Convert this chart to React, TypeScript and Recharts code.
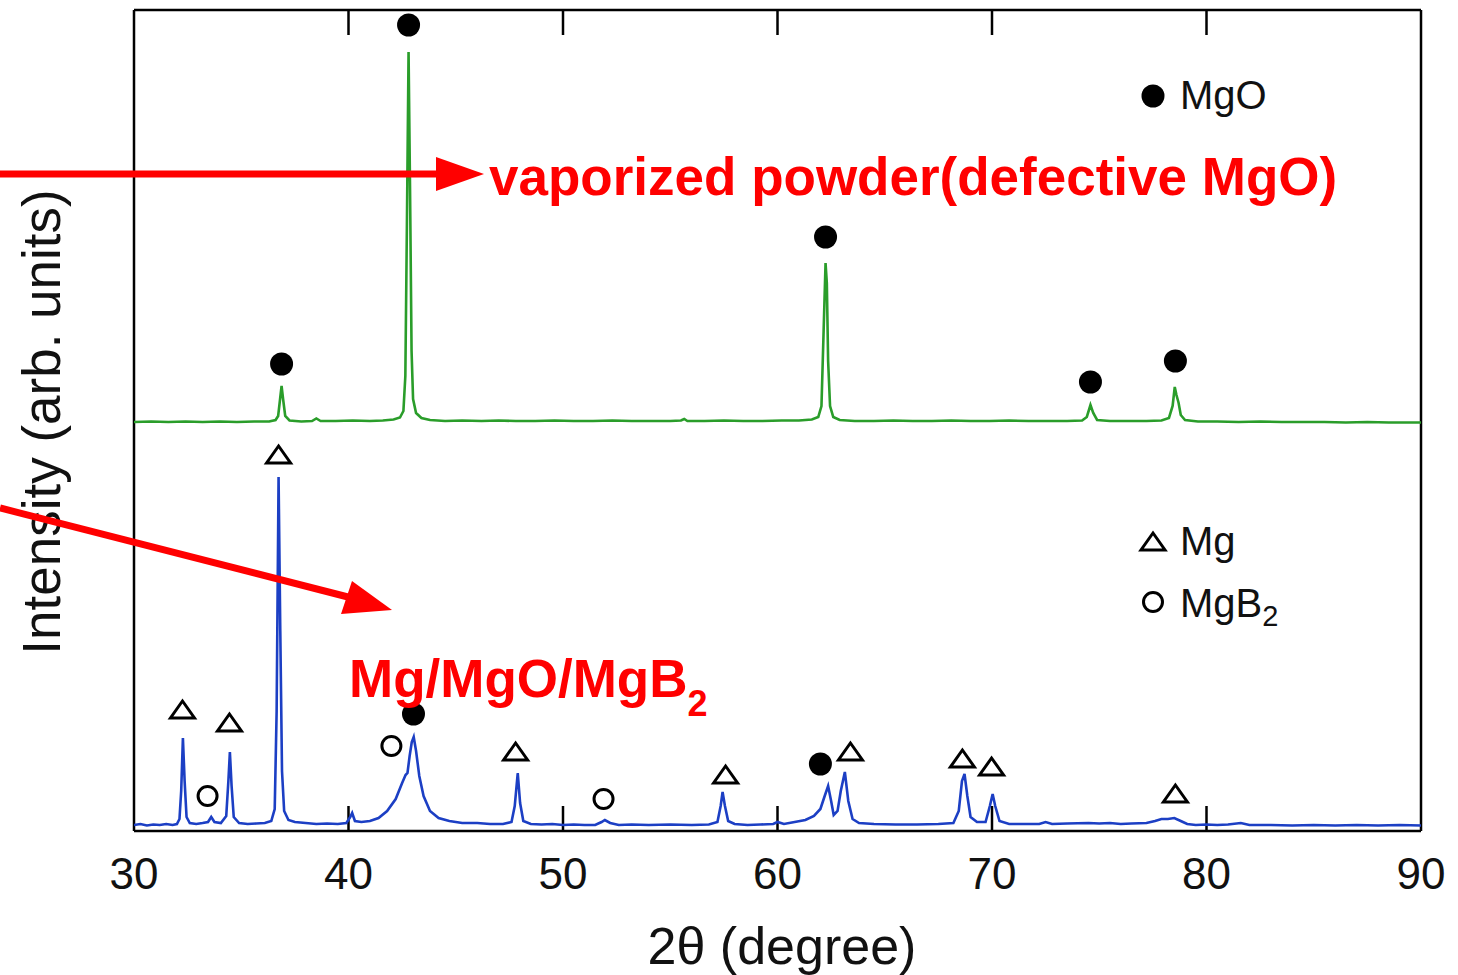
import React from "react";
import {
  ComposedChart,
  Line,
  Scatter,
  XAxis,
  YAxis,
  ReferenceLine,
} from "recharts";

// ---- axis setup ----
const THETA_TICKS = [30, 40, 50, 60, 70, 80, 90];
const INNER_TICKS = [40, 50, 60, 70, 80];
const Y_MAX = 821;

// ---- XRD pattern of the vaporized powder (2θ, stacked intensity) ----
const VAPORIZED_PATTERN: [number, number][] = [
  [30.0, 409], [30.8, 409.5], [31.6, 409], [32.4, 409.5], [33.2, 409], [34.0, 409.5],
  [34.8, 409], [35.6, 409.5], [36.3, 409.5], [36.6, 411], [36.72, 415], [36.8, 430],
  [36.88, 445], [36.95, 432], [37.05, 415], [37.25, 410.5], [37.8, 409.5], [38.3, 410],
  [38.5, 412.5], [38.7, 410], [39.4, 410], [40.2, 410.5], [41.0, 410], [41.6, 410.5],
  [42.1, 411.5], [42.4, 413.5], [42.56, 420], [42.65, 455], [42.72, 600], [42.8, 779],
  [42.87, 640], [42.94, 480], [43.01, 432], [43.15, 418], [43.4, 413], [43.8, 411],
  [44.5, 410], [45.3, 410.5], [46.2, 410], [47.0, 410.5], [47.8, 410], [48.7, 410],
  [49.6, 410.5], [50.5, 410], [51.4, 410], [52.3, 410.5], [53.2, 410], [54.1, 410],
  [55.0, 410], [55.5, 410.5], [55.65, 412], [55.8, 410], [56.6, 410], [57.5, 410.5],
  [58.4, 410], [59.3, 410], [60.2, 410.5], [61.0, 410.5], [61.6, 411.5], [61.9, 414],
  [62.05, 425], [62.15, 500], [62.24, 568], [62.3, 548], [62.36, 470], [62.45, 425],
  [62.6, 414], [62.9, 411], [63.6, 410], [64.5, 410], [65.4, 410.5], [66.3, 410],
  [67.2, 410], [68.1, 410.5], [69.0, 410], [69.9, 410], [70.8, 410.5], [71.7, 410],
  [72.6, 410], [73.5, 410], [74.2, 410.5], [74.42, 414], [74.59, 426], [74.72, 418],
  [74.9, 411], [75.5, 410], [76.3, 410], [77.2, 410], [77.9, 410.5], [78.25, 413],
  [78.42, 425], [78.52, 444], [78.6, 436], [78.7, 428], [78.8, 416], [79.0, 411],
  [79.6, 409.5], [80.5, 409.5], [81.5, 409], [82.5, 409.5], [83.5, 409], [84.5, 409],
  [85.5, 409], [86.5, 408.5], [87.5, 409], [88.5, 408.5], [89.3, 408.5], [90.0, 408.5],
];

// ---- XRD pattern of the Mg/MgO/MgB2 sample (2θ, intensity) ----
const COMPOSITE_PATTERN: [number, number][] = [
  [30.0, 6], [30.3, 7], [30.6, 5.5], [30.9, 6.5], [31.2, 6], [31.5, 7], [31.8, 6],
  [32.0, 7], [32.12, 12], [32.2, 40], [32.28, 93], [32.36, 50], [32.45, 14], [32.6, 8],
  [32.9, 7], [33.2, 8], [33.45, 9], [33.6, 14], [33.75, 9], [34.05, 8], [34.3, 15],
  [34.4, 50], [34.47, 79], [34.55, 45], [34.65, 14], [34.9, 8], [35.3, 7], [35.7, 7.5],
  [36.1, 8], [36.4, 10], [36.56, 22], [36.65, 120], [36.74, 354], [36.82, 200],
  [36.9, 60], [37.0, 20], [37.2, 11], [37.5, 9], [38.0, 8], [38.5, 7], [39.0, 7.5],
  [39.5, 7], [39.9, 8], [40.08, 14], [40.17, 18], [40.3, 10], [40.6, 9], [41.0, 10],
  [41.4, 13], [41.8, 20], [42.2, 32], [42.5, 48], [42.66, 56], [42.75, 58], [42.85, 75],
  [42.95, 89], [43.04, 94], [43.15, 80], [43.3, 55], [43.5, 35], [43.8, 20], [44.2, 13],
  [44.7, 10], [45.3, 8], [46.0, 8], [46.6, 7], [47.2, 7], [47.6, 9], [47.75, 25],
  [47.89, 58], [48.0, 28], [48.15, 10], [48.5, 7], [49.0, 6.5], [49.5, 7], [50.0, 6],
  [50.5, 6.5], [51.0, 6], [51.5, 6], [51.8, 9], [51.95, 11], [52.2, 8], [52.6, 6],
  [53.2, 6.5], [54.0, 6], [55.0, 6.5], [56.0, 6], [56.8, 6.5], [57.2, 9], [57.35, 25],
  [57.44, 39], [57.55, 25], [57.7, 10], [58.0, 7], [58.6, 6], [59.2, 6.5], [59.8, 7],
  [60.0, 9], [60.3, 7], [60.8, 9], [61.3, 11], [61.7, 15], [62.0, 22], [62.2, 35],
  [62.36, 45], [62.5, 30], [62.62, 16], [62.8, 20], [62.95, 40], [63.14, 59], [63.3, 30],
  [63.5, 12], [63.8, 8], [64.5, 7], [65.5, 6.5], [66.5, 6.5], [67.5, 7], [68.2, 8],
  [68.45, 20], [68.6, 50], [68.72, 57], [68.85, 35], [69.0, 14], [69.3, 9], [69.7, 9],
  [69.9, 25], [70.03, 37], [70.15, 25], [70.35, 10], [70.8, 7], [71.5, 7], [72.2, 7],
  [72.5, 9], [72.8, 7], [73.5, 7.5], [74.5, 8], [75.0, 7.5], [75.5, 8], [76.0, 7],
  [76.5, 7.5], [77.2, 8], [77.6, 10], [77.9, 12], [78.2, 12], [78.5, 13], [78.8, 10],
  [79.1, 7], [79.5, 6], [80.0, 6.5], [80.5, 6], [81.0, 6.5], [81.6, 8], [82.0, 6],
  [83.0, 6], [84.0, 5.5], [85.0, 6], [86.0, 5.5], [87.0, 6], [88.0, 5.5], [89.0, 6],
  [90.0, 5.5],
];

// ---- phase identification markers (2θ, marker height) ----
const MGO_MARKS: [number, number][] = [
  [36.88, 467], [42.8, 806], [62.24, 594], [74.59, 449], [78.55, 470],
  [43.03, 117], [62.0, 67],
];
const MG_MARKS: [number, number][] = [
  [32.26, 121], [34.45, 108], [36.74, 376], [47.79, 79], [57.58, 56],
  [63.4, 79], [68.62, 72], [69.98, 64], [78.55, 37],
];
const MGB2_MARKS: [number, number][] = [
  [33.43, 35], [42.0, 85], [51.89, 32],
];

const toPoints = (arr: [number, number][]) => arr.map(([t, v]) => ({ t, v }));

const vaporized = toPoints(VAPORIZED_PATTERN);
const composite = toPoints(COMPOSITE_PATTERN);
const mgoMarks = toPoints(MGO_MARKS);
const mgMarks = toPoints(MG_MARKS);
const mgb2Marks = toPoints(MGB2_MARKS);

const FONT = "'Liberation Sans', Arial, Helvetica, sans-serif";
const GREEN = "#2a9d2a";
const BLUE = "#1c3fc4";
const RED = "#ff0000";
const FRAME = { stroke: "#000", strokeWidth: 2.5 };

// marker glyphs
const FilledDot = ({ cx, cy }: { cx: number; cy: number }) => (
  <circle cx={cx} cy={cy} r={11.5} fill="#000" />
);
const OpenDot = ({ cx, cy }: { cx: number; cy: number }) => (
  <circle cx={cx} cy={cy} r={9.5} fill="none" stroke="#000" strokeWidth={3} />
);
const Triangle = ({ cx, cy }: { cx: number; cy: number }) => (
  <polygon
    points={`${cx - 12},${cy + 8} ${cx + 12},${cy + 8} ${cx},${cy - 9}`}
    fill="none"
    stroke="#000"
    strokeWidth={3}
    strokeLinejoin="miter"
  />
);

const ThetaTick = (props: any) => {
  const { x, y, payload } = props;
  return (
    <text
      x={x}
      y={y + 58}
      textAnchor="middle"
      fontSize={44}
      fontFamily={FONT}
      fill="#111"
    >
      {payload.value}
    </text>
  );
};

export default function App() {
  return (
    <div style={{ position: "absolute", left: 0, top: 0, width: 1458, height: 975, background: "#fff" }}>
      <ComposedChart
        width={1458}
        height={975}
        margin={{ top: 10, right: 37, bottom: 0, left: 134 }}
      >
        <XAxis
          dataKey="t"
          type="number"
          domain={[30, 90]}
          ticks={THETA_TICKS}
          interval={0}
          height={144}
          tickSize={0}
          tickMargin={0}
          tickLine={false}
          tick={<ThetaTick />}
          axisLine={FRAME}
          allowDataOverflow
        />
        <YAxis
          dataKey="v"
          type="number"
          domain={[0, Y_MAX]}
          hide
          allowDataOverflow
        />

        {/* plot frame: left, right and top borders */}
        <ReferenceLine x={30} ifOverflow="visible" {...FRAME} />
        <ReferenceLine x={90} ifOverflow="visible" {...FRAME} />
        <ReferenceLine y={Y_MAX} ifOverflow="visible" {...FRAME} />

        {/* inward ticks on the bottom and top borders */}
        {INNER_TICKS.map((t) => (
          <ReferenceLine
            key={`b${t}`}
            segment={[{ x: t, y: 0 }, { x: t, y: 25 }]}
            {...FRAME}
          />
        ))}
        {INNER_TICKS.map((t) => (
          <ReferenceLine
            key={`t${t}`}
            segment={[{ x: t, y: Y_MAX - 25 }, { x: t, y: Y_MAX }]}
            {...FRAME}
          />
        ))}

        <Line
          data={vaporized}
          dataKey="v"
          type="linear"
          stroke={GREEN}
          strokeWidth={2.6}
          dot={false}
          activeDot={false}
          isAnimationActive={false}
        />
        <Line
          data={composite}
          dataKey="v"
          type="linear"
          stroke={BLUE}
          strokeWidth={2.6}
          dot={false}
          activeDot={false}
          isAnimationActive={false}
        />

        <Scatter
          data={mgoMarks}
          dataKey="v"
          shape={(p: any) => <FilledDot cx={p.cx} cy={p.cy} />}
          isAnimationActive={false}
        />
        <Scatter
          data={mgMarks}
          dataKey="v"
          shape={(p: any) => <Triangle cx={p.cx} cy={p.cy} />}
          isAnimationActive={false}
        />
        <Scatter
          data={mgb2Marks}
          dataKey="v"
          shape={(p: any) => <OpenDot cx={p.cx} cy={p.cy} />}
          isAnimationActive={false}
        />
      </ComposedChart>

      {/* axis titles, legends and sample annotations */}
      <svg
        width={1458}
        height={975}
        style={{ position: "absolute", left: 0, top: 0, pointerEvents: "none" }}
      >
        <text
          transform="translate(60,422) rotate(-90)"
          textAnchor="middle"
          fontSize={53}
          fontFamily={FONT}
          fill="#111"
        >
          Intensity (arb. units)
        </text>
        <text x={782} y={964} textAnchor="middle" fontSize={52} fontFamily={FONT} fill="#111">
          2θ (degree)
        </text>

        <FilledDot cx={1153} cy={96} />
        <text x={1180} y={109} fontSize={40} fontFamily={FONT} fill="#111">MgO</text>

        <Triangle cx={1153} cy={542} />
        <text x={1180} y={555} fontSize={40} fontFamily={FONT} fill="#111">Mg</text>

        <OpenDot cx={1153} cy={602} />
        <text x={1180} y={617} fontSize={40} fontFamily={FONT} fill="#111">
          MgB<tspan fontSize={29} dy={9}>2</tspan>
        </text>

        <line x1={0} y1={174} x2={440} y2={174} stroke={RED} strokeWidth={7} />
        <polygon points="484,174 436,157 436,191" fill={RED} />
        <text x={489} y={195} fontSize={53} fontWeight="bold" fontFamily={FONT} fill={RED}>
          vaporized powder(defective MgO)
        </text>

        <line x1={0} y1={508} x2={348} y2={597} stroke={RED} strokeWidth={7} />
        <polygon points="392,610 341,614 352,581" fill={RED} />
        <text x={349} y={697} fontSize={53} fontWeight="bold" fontFamily={FONT} fill={RED}>
          Mg/MgO/MgB<tspan fontSize={36} dy={19}>2</tspan>
        </text>
      </svg>
    </div>
  );
}
